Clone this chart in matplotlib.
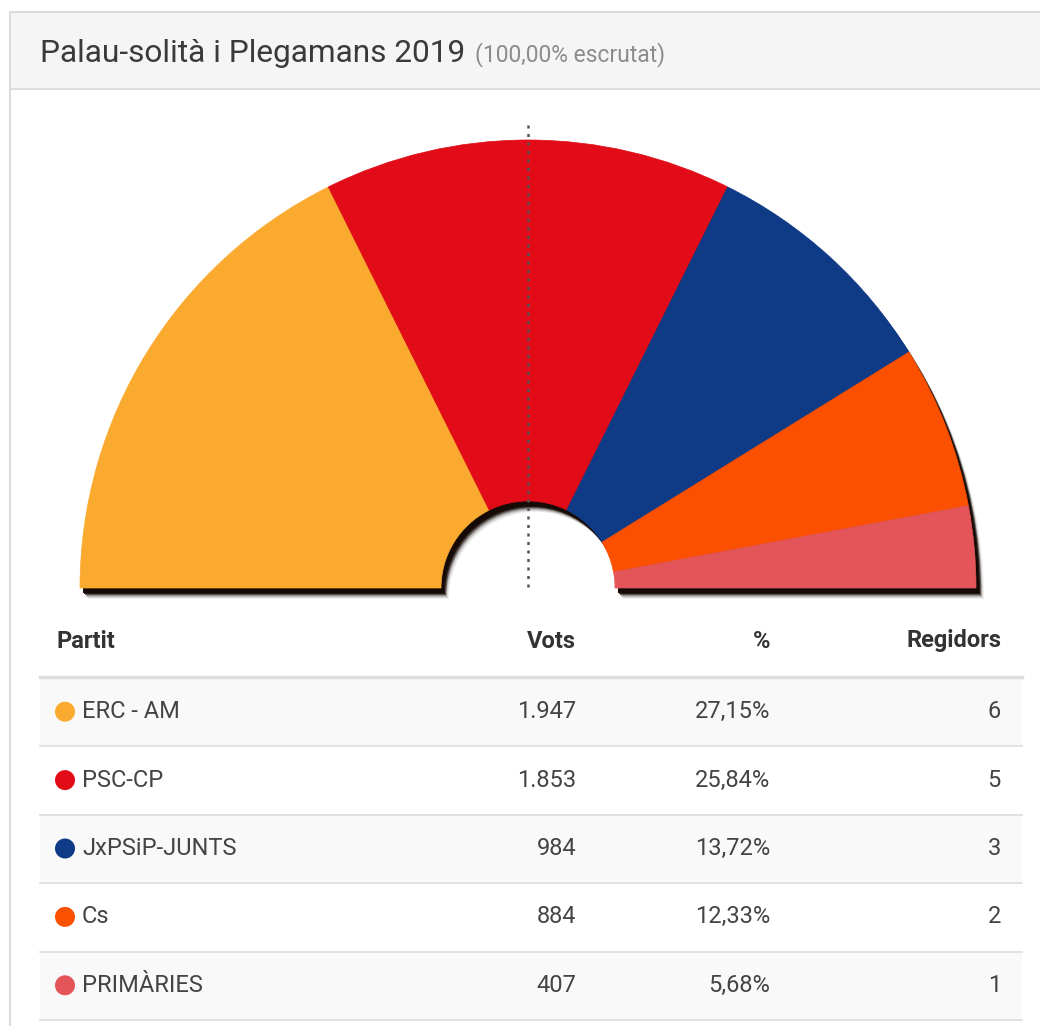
import matplotlib
matplotlib.use("Agg")
import matplotlib.pyplot as plt
from matplotlib.patches import Wedge, Rectangle, Circle
import numpy as np

# ---- data ----
parties = ["ERC - AM", "PSC-CP", "JxPSiP-JUNTS", "Cs", "PRIMÀRIES"]
votes = ["1.947", "1.853", "984", "884", "407"]
percents = ["27,15%", "25,84%", "13,72%", "12,33%", "5,68%"]
seats = [6, 5, 3, 2, 1]
colors = ["#FBAA30", "#E20C18", "#0E3A86", "#FB5000", "#E4555A"]
title = "Palau-solità i Plegamans 2019"
subtitle = "(100,00% escrutat)"
headers = ["Partit", "Vots", "%", "Regidors"]

W, H = 1040, 1026
fig = plt.figure(figsize=(W / 100, H / 100), dpi=100)
ax = fig.add_axes([0, 0, 1, 1])
ax.set_xlim(0, W)
ax.set_ylim(0, H)
ax.set_aspect("equal")
ax.axis("off")

def Y(py):
    return H - py

FONT = ["Roboto", "DejaVu Sans"]

# ---- panel frame / header ----
ax.add_patch(Rectangle((10, Y(89)), W, 77, facecolor="#f5f5f5", edgecolor="#dcdcdc", lw=1.5, zorder=1))
ax.plot([10, 10], [Y(89), 0], color="#dcdcdc", lw=1.5, zorder=1)
t = ax.text(40, Y(53), title, fontsize=22.8, color="#3a3a3a", va="center", ha="left", family=FONT, zorder=5)
fig.canvas.draw()
bb = t.get_window_extent()
ax.text(bb.x1 + 10, Y(55), subtitle, fontsize=16.5, color="#8c8c8c", va="center", ha="left",
        family=FONT, zorder=5)

# ---- hemicycle ----
cx, cy = 528, Y(588)
R, r = 448, 87
total = sum(seats)

# soft shadow
for dx, dy, a in [(8, -11, 0.06), (7, -10, 0.1), (6, -9, 0.15), (5.5, -8, 0.25), (5, -7, 0.45), (4, -6, 0.8), (3, -5, 1.0)]:
    ax.add_patch(Wedge((cx + dx, cy + dy), R, 0, 180, width=R - r, facecolor="#150a05",
                       edgecolor="none", alpha=a, zorder=2))
ang = 180.0
for s, c in zip(seats, colors):
    a2 = ang - 180.0 * s / total
    ax.add_patch(Wedge((cx, cy), R, a2, ang, width=R - r, facecolor=c, edgecolor=c, lw=0.5, zorder=3))
    ang = a2

ax.plot([cx, cx], [Y(125), Y(592)], color="#555555", lw=1.8, linestyle=(0, (1.2, 2.2)), zorder=4)

# ---- table ----
xl, xr = 40, 1022
ax.text(56, Y(641), headers[0], fontsize=17, fontweight="bold", color="#333333", va="center", family=FONT)
ax.text(576, Y(641), headers[1], fontsize=17, fontweight="bold", color="#333333", va="center", ha="right", family=FONT)
ax.text(770, Y(641), headers[2], fontsize=17, fontweight="bold", color="#333333", va="center", ha="right", family=FONT)
ax.text(1001, Y(641), headers[3], fontsize=17, fontweight="bold", color="#333333", va="center", ha="right", family=FONT)
ax.plot([xl, xr], [Y(677), Y(677)], color="#dddddd", lw=2.5, zorder=2)

row_top = 678
row_h = 68.4
for i, (p, v, pc, s, c) in enumerate(zip(parties, votes, percents, seats, colors)):
    top = row_top + i * row_h
    bot = top + row_h
    if i % 2 == 0:
        ax.add_patch(Rectangle((xl, Y(bot)), xr - xl, row_h, facecolor="#f9f9f9", edgecolor="none", zorder=1))
    ax.plot([xl, xr], [Y(bot), Y(bot)], color="#dddddd", lw=1.2, zorder=2)
    yc = Y(top + row_h / 2 - 0.5)
    ax.add_patch(Circle((65, yc), 10, facecolor=c, edgecolor="none", zorder=3))
    ax.text(82, yc, p, fontsize=17, color="#444444", va="center", ha="left", family=FONT, zorder=4)
    ax.text(576, yc, v, fontsize=17, color="#444444", va="center", ha="right", family=FONT, zorder=4)
    ax.text(770, yc, pc, fontsize=17, color="#444444", va="center", ha="right", family=FONT, zorder=4)
    ax.text(1001, yc, str(s), fontsize=17, color="#444444", va="center", ha="right", family=FONT, zorder=4)

fig.savefig("out.png", dpi=100, facecolor="white")
